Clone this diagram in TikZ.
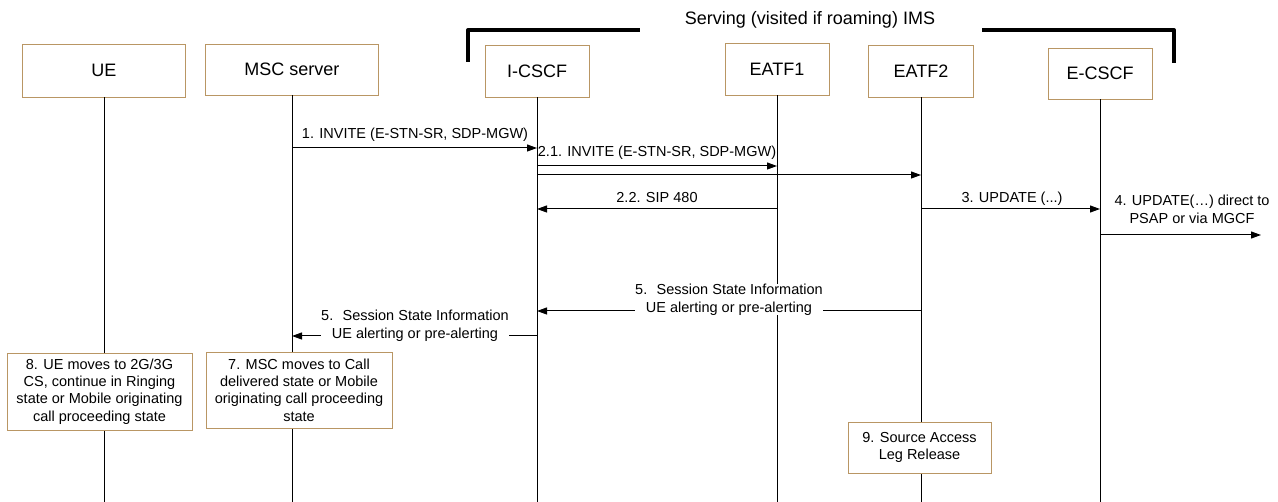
\documentclass[tikz,border=0pt]{standalone}
\usepackage{fontspec}
\setmainfont{Liberation Sans}
\definecolor{boxtan}{RGB}{185,150,100}
\usetikzlibrary{arrows.meta,positioning}

\begin{document}
\begin{tikzpicture}[x=1pt, y=-1pt,
    entity/.style={rectangle, draw=boxtan, fill=white, line width=0.9pt, font=\fontsize{18}{21}\selectfont},
    note/.style={rectangle, draw=boxtan, fill=white, line width=0.9pt, align=center, font=\fontsize{14.5}{17.3}\selectfont},
    life/.style={line width=1pt},
    msg/.style={-{Triangle[length=10pt,width=7pt]}, line width=1pt},
    lbl/.style={font=\fontsize{14.5}{18}\selectfont, align=center, inner sep=0pt},
    gaplbl/.style={lbl, fill=white},
    bracket/.style={line width=4pt, line join=round}
]
    \useasboundingbox (0,0) rectangle (1278,502);

    % IMS bracket
    \node[font=\fontsize{18}{21}\selectfont] (ims) at (810,20) {Serving (visited if roaming) IMS};
    \draw[bracket] (468,62) -- (468,30) -- (640,30);
    \draw[bracket] (982,30) -- (1174,30) -- (1174,63);

    % entities
    \node[entity, minimum width=163pt, minimum height=53pt] (ue) at (104,70.5) {UE};
    \node[entity, minimum width=173pt, minimum height=51pt] (msc) at (292,69.5) {MSC server};
    \node[entity, minimum width=104pt, minimum height=52pt] (icscf) at (537,71) {I-CSCF};
    \node[entity, minimum width=104pt, minimum height=52pt] (eatf1) at (777,69) {EATF1};
    \node[entity, minimum width=105pt, minimum height=52pt] (eatf2) at (921,71) {EATF2};
    \node[entity, minimum width=104pt, minimum height=51pt] (ecscf) at (1100,73.5) {E-CSCF};

    % lifelines
    \foreach \n in {ue,msc,icscf,eatf1,eatf2,ecscf}
        \draw[life] (\n.south) -- (\n.south |- 0,502);

    % messages
    \draw[msg] (msc |- 0,148) -- (icscf |- 0,148);
    \node[lbl] (m1) at (415,135) {1. INVITE (E-STN-SR, SDP-MGW)};

    \draw[msg] (icscf |- 0,166) -- (eatf1 |- 0,166);
    \draw[msg] (icscf |- 0,175) -- (eatf2 |- 0,175);
    \node[lbl] (m21) at (657,153) {2.1. INVITE (E-STN-SR, SDP-MGW)};

    \draw[msg] (eatf1 |- 0,209) -- (icscf |- 0,209);
    \node[lbl] (m22) at (657,198) {2.2. SIP 480};

    \draw[msg] (eatf2 |- 0,209) -- (ecscf |- 0,209);
    \node[lbl] (m3) at (1012,199) {3. UPDATE (...)};

    \coordinate (psap) at (1261,235);
    \draw[msg] (ecscf |- psap) -- (psap);
    \node[lbl] (m4) at (1192,209) {4. UPDATE(\dots) direct to\\PSAP or via MGCF};

    \draw[msg] (eatf2 |- 0,311) -- (icscf |- 0,311);
    \node[gaplbl] (m5a) at (729,299.5) {5.~ Session State Information\\UE alerting or pre-alerting};

    \draw[msg] (icscf |- 0,336) -- (msc |- 0,336);
    \node[gaplbl] (m5b) at (415,325.5) {5.~ Session State Information\\UE alerting or pre-alerting};

    % state notes
    \node[note, minimum width=185pt, minimum height=77pt] (n8) at (99.5,391.5)
        {8. UE moves to 2G/3G\\CS, continue in Ringing\\state or Mobile originating\\call proceeding state};
    \node[note, minimum width=186pt, minimum height=76pt] (n7) at (299,390)
        {7. MSC moves to Call\\delivered state or Mobile\\originating call proceeding\\state};
    \node[note, minimum width=143pt, minimum height=51pt] (n9) at (919.5,447.5)
        {9. Source Access\\Leg Release};
\end{tikzpicture}
\end{document}
